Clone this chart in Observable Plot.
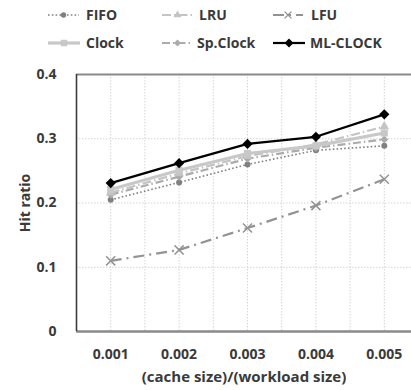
<!DOCTYPE html>
<html>
<head>
<meta charset="utf-8">
<script src="https://cdn.jsdelivr.net/npm/d3@7"></script>
<script src="https://cdn.jsdelivr.net/npm/@observablehq/plot@0.6"></script>
<style>
  html, body { margin: 0; padding: 0; background: #fff; }
  #chart { width: 411px; height: 390px; overflow: hidden; font-family: "Open Sans", sans-serif; }
  #chart svg { display: block; }
</style>
</head>
<body>
<div id="chart"></div>
<script>
// ---- data ----
const categories = ["0.001", "0.002", "0.003", "0.004", "0.005"];
const seriesNames = ["FIFO", "LRU", "LFU", "Clock", "Sp.Clock", "ML-CLOCK"];
const fifo    = [0.205, 0.232, 0.260, 0.282, 0.289];
const lru     = [0.216, 0.246, 0.273, 0.291, 0.319];
const lfu     = [0.110, 0.127, 0.161, 0.196, 0.237];
const clock   = [0.221, 0.251, 0.277, 0.289, 0.309];
const spclock = [0.213, 0.241, 0.269, 0.286, 0.299];
const mlclock = [0.231, 0.262, 0.292, 0.303, 0.338];
const yTicks  = [0, 0.1, 0.2, 0.3, 0.4];

const values = {"FIFO": fifo, "LRU": lru, "LFU": lfu, "Clock": clock, "Sp.Clock": spclock, "ML-CLOCK": mlclock};

const styles = {
  "FIFO":     {stroke: "#808080", width: 1.6, dash: "1.6,2.2", symbol: "circle", r: 3, fill: "#808080"},
  "LRU":      {stroke: "#c4c4c4", width: 2.2, dash: "9,3,1.5,3", symbol: "triangle", r: 3.6, fill: "#c4c4c4"},
  "LFU":      {stroke: "#939393", width: 2.2, dash: "11,5,2,5", symbol: "times", r: 4.2, fill: "none"},
  "Clock":    {stroke: "#c8c8c8", width: 3.2, dash: null, symbol: "square", r: 4, fill: "#c8c8c8"},
  "Sp.Clock": {stroke: "#ababab", width: 2.2, dash: "8,3,1.5,3", symbol: "diamond2", r: 3.6, fill: "#ababab"},
  "ML-CLOCK": {stroke: "#000000", width: 2.2, dash: null, symbol: "diamond2", r: 4.6, fill: "#000000"}
};

const rows = [];
for (const name of seriesNames) {
  values[name].forEach((v, i) => rows.push({series: name, xi: i + 1, value: v}));
}

const textColor = "#3a3a3a";
const container = document.getElementById("chart");

// ---- legend (above the plot) ----
const legendH = 58;
const legend = d3.create("svg").attr("width", 411).attr("height", legendH)
  .style("font-family", "'Open Sans', sans-serif").style("font-weight", "bold").style("font-size", "14px");
const legendLayout = [
  {name: "FIFO",     x0: 48,  x1: 79,  tx: 86,  row: 0},
  {name: "LRU",      x0: 162, x1: 193, tx: 199, row: 0},
  {name: "LFU",      x0: 273, x1: 303, tx: 311, row: 0},
  {name: "Clock",    x0: 48,  x1: 80,  tx: 86,  row: 1},
  {name: "Sp.Clock", x0: 162, x1: 193, tx: 197, row: 1},
  {name: "ML-CLOCK", x0: 273, x1: 305, tx: 310, row: 1}
];
const rowY = [15, 43];
const symbolPaths = {
  circle: r => d3.symbol(d3.symbolCircle, Math.PI * r * r)(),
  triangle: r => d3.symbol(d3.symbolTriangle, r * r * 2.6)(),
  times: r => d3.symbol(d3.symbolTimes, r * r * 2.2)(),
  square: r => d3.symbol(d3.symbolSquare, r * r * 3.2)(),
  diamond2: r => d3.symbol(d3.symbolDiamond2, r * r * 3)()
};
for (const it of legendLayout) {
  const s = styles[it.name];
  const y = rowY[it.row];
  const g = legend.append("g");
  g.append("line").attr("x1", it.x0).attr("x2", it.x1).attr("y1", y).attr("y2", y)
    .attr("stroke", s.stroke).attr("stroke-width", s.width)
    .attr("stroke-dasharray", s.dash || null);
  const p = g.append("path").attr("d", symbolPaths[s.symbol](s.r * 0.9))
    .attr("transform", `translate(${(it.x0 + it.x1) / 2},${y})`);
  if (s.fill === "none") p.attr("fill", "none").attr("stroke", s.stroke).attr("stroke-width", 1.4);
  else p.attr("fill", s.fill);
  g.append("text").attr("x", it.tx).attr("y", y).attr("dy", "0.36em")
    .attr("fill", textColor).text(it.name);
}
container.appendChild(legend.node());

// ---- plot ----
const seriesMarks = [];
const order = ["LFU", "FIFO", "Sp.Clock", "LRU", "Clock", "ML-CLOCK"];
for (const name of order) {
  const s = styles[name];
  const data = rows.filter(d => d.series === name);
  seriesMarks.push(Plot.line(data, {
    x: "xi", y: "value", stroke: s.stroke, strokeWidth: s.width,
    strokeDasharray: s.dash || undefined, strokeLinecap: "butt"
  }));
  seriesMarks.push(Plot.dot(data, {
    x: "xi", y: "value", symbol: () => s.symbol, r: s.r,
    fill: s.fill, stroke: s.fill === "none" ? s.stroke : "none",
    strokeWidth: s.fill === "none" ? 1.5 : undefined
  }));
}

const gridX = d3.range(1, 5.51, 0.5);

const chart = Plot.plot({
  width: 411,
  height: 332,
  marginLeft: 76,
  marginRight: 0,
  marginTop: 16,
  marginBottom: 59,
  x: {type: "linear", domain: [0.5, 5.5], range: [76, 418]},
  y: {domain: [0, 0.4], range: [273, 16]},
  symbol: {type: "identity"},
  style: {fontFamily: "'Open Sans', sans-serif", fontSize: "14px", fontWeight: "bold", color: textColor, background: "#fff"},
  marks: [
    Plot.ruleX(gridX, {stroke: "#d4d4d4", strokeWidth: 1, strokeDasharray: "1.5,1.5"}),
    Plot.ruleY([0.1, 0.2, 0.3], {stroke: "#d4d4d4", strokeWidth: 1, strokeDasharray: "1.5,1.5"}),
    Plot.ruleY([0.4], {stroke: "#8a8a8a", strokeWidth: 2}),
    ...seriesMarks,
    Plot.ruleY([0], {stroke: "#8a8a8a", strokeWidth: 2.6}),
    Plot.ruleX([0.5], {stroke: "#3c3c3c", strokeWidth: 1.6}),
    Plot.axisX({
      ticks: [1, 2, 3, 4, 5], tickFormat: i => categories[i - 1], tickSize: 0, tickPadding: 18,
      label: null, fill: textColor, fontSize: 14
    }),
    Plot.axisX({
      ticks: [], tickSize: 0,
      label: "(cache size)/(workload size)", labelAnchor: "center", labelOffset: 50, labelArrow: "none",
      fill: textColor, fontSize: 15
    }),
    Plot.axisY({
      ticks: yTicks, tickFormat: d => d === 0 ? "0" : d.toFixed(1), tickSize: 0, tickPadding: 20,
      label: "Hit ratio", labelAnchor: "center", labelOffset: 56, labelArrow: "none",
      fill: textColor, fontSize: 14
    })
  ]
});
container.appendChild(chart);
</script>
</body>
</html>
